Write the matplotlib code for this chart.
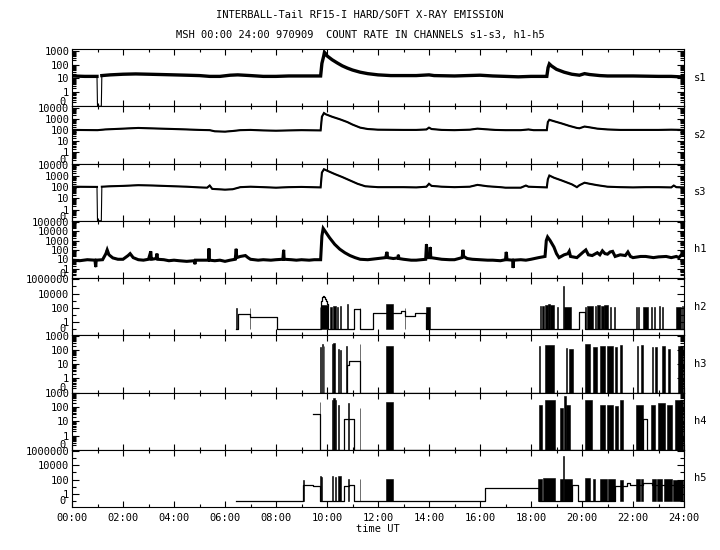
import numpy as np
import matplotlib
matplotlib.use('Agg')
import matplotlib.pyplot as plt
from matplotlib.ticker import FixedLocator, NullFormatter

plt.rcParams['font.family'] = ['DejaVu Sans Mono', 'DejaVu Sans']
plt.rcParams['font.size'] = 7.5

# ---- soft channels and h1: knot times (hours UT) / count rates (0 = no counts)
s1_t = [0.0, 0.5, 0.98, 1.0, 1.15, 1.17, 1.5, 2.0, 2.5, 3.0, 3.5, 4.0, 4.5, 5.0, 5.4, 5.8,
        6.2, 6.5, 7.0, 7.5, 8.0, 8.5, 9.0, 9.5, 9.75, 9.8, 9.87, 9.9, 9.95, 10.0, 10.2,
        10.4, 10.6, 10.8, 11.0, 11.3, 11.6, 12.0, 12.5, 13.0, 13.5, 14.0, 14.2, 15.0,
        15.5, 16.0, 16.5, 17.0, 17.5, 18.0, 18.5, 18.62, 18.67, 18.72, 18.8, 19.0, 19.3,
        19.6, 19.9, 20.1, 20.3, 20.7, 21.0, 22.0, 23.0, 23.5, 23.85, 24.0]
s1_v = [15, 14, 14, 0, 0, 16, 18, 20, 21, 20, 19, 18, 17, 16, 14, 14,
        17, 18, 16, 14, 14, 15, 15, 15, 15, 120, 400, 750, 600, 420, 220,
        130, 80, 55, 40, 28, 22, 18, 16, 16, 16, 18, 16, 15,
        16, 17, 15, 14, 13, 14, 14, 14, 60, 110, 80, 45, 28,
        20, 17, 22, 19, 16, 15, 15, 14, 14, 13, 14]

s2_t = [0.0, 1.0, 1.3, 2.0, 2.6, 3.0, 3.5, 4.0, 4.5, 5.0, 5.4, 5.6, 6.0, 6.3, 6.6, 7.0,
        7.5, 8.0, 8.5, 9.0, 9.75, 9.8, 9.88, 9.95, 10.2, 10.5, 10.8, 11.0, 11.3, 11.6,
        12.0, 13.0, 13.5, 13.9, 14.0, 14.1, 14.5, 15.0, 15.6, 15.9, 16.2, 16.6, 17.0,
        17.6, 17.9, 18.1, 18.62, 18.66, 18.72, 18.9, 19.2, 19.5, 19.8, 19.9, 20.1,
        20.3, 20.6, 21.0, 21.5, 22.0, 23.0, 23.5, 24.0]
s2_v = [100, 95, 110, 130, 150, 140, 130, 120, 110, 100, 95, 75, 70, 80, 95, 100,
        90, 85, 90, 95, 90, 1500, 3200, 2500, 1500, 900, 500, 300, 160, 120,
        105, 100, 100, 110, 160, 120, 100, 95, 105, 130, 115, 100, 95,
        95, 110, 95, 95, 500, 800, 600, 380, 230, 150, 140, 200,
        170, 130, 110, 100, 100, 100, 105, 100]

s3_t = [0.0, 0.98, 1.0, 1.15, 1.17, 1.5, 2.0, 2.6, 3.2, 4.0, 4.5, 5.0, 5.3, 5.4, 5.5,
        6.0, 6.3, 6.6, 7.0, 7.5, 8.0, 8.5, 9.0, 9.75, 9.8, 9.88, 10.0, 10.3, 10.6, 10.9,
        11.2, 11.5, 12.0, 13.0, 13.5, 13.9, 14.0, 14.1, 14.5, 15.0, 15.6, 15.9, 16.3,
        16.8, 17.0, 17.6, 17.8, 17.9, 18.62, 18.66, 18.72, 18.9, 19.2, 19.6, 19.8, 19.9,
        20.1, 20.3, 20.6, 21.0, 21.5, 22.0, 22.5, 23.0, 23.5, 23.6, 23.7, 24.0]
s3_v = [110, 105, 0, 0, 110, 120, 130, 150, 140, 120, 110, 95, 90, 140, 70,
        60, 65, 100, 110, 100, 90, 100, 105, 95, 2000, 4000, 3000, 1500, 800, 400,
        200, 120, 100, 100, 95, 110, 200, 130, 110, 100, 110, 160, 120,
        100, 90, 90, 140, 110, 95, 500, 1100, 700, 400, 180, 100, 150,
        250, 200, 150, 110, 100, 95, 100, 100, 95, 140, 100, 95]

h1_t = [0.0, 0.3, 0.6, 0.9, 0.93, 0.95, 1.2, 1.33, 1.38, 1.45, 1.6, 1.8, 2.0, 2.2, 2.28,
        2.4, 2.6, 2.8, 3.0, 3.09, 3.11, 3.13, 3.3, 3.33, 3.36, 3.6, 3.8, 4.0, 4.2, 4.5,
        4.8, 4.82, 4.84, 5.0, 5.35, 5.37, 5.39, 5.6, 5.8, 6.0, 6.2, 6.4, 6.44, 6.46,
        6.6, 6.8, 6.9, 7.0, 7.3, 7.5, 7.8, 8.0, 8.27, 8.3, 8.32, 8.6, 8.8, 9.0, 9.3,
        9.5, 9.75, 9.8, 9.85, 9.95, 10.1, 10.3, 10.5, 10.7, 10.9, 11.1, 11.3, 11.6,
        12.0, 12.3, 12.35, 12.38, 12.6, 12.78, 12.8, 12.82, 13.0, 13.3, 13.5, 13.87,
        13.9, 13.93, 14.03, 14.05, 14.07, 14.3, 14.5, 14.8, 15.0, 15.3, 15.33, 15.36,
        15.5, 15.7, 16.0, 16.3, 16.5, 16.8, 17.0, 17.03, 17.06, 17.28, 17.3, 17.32,
        17.6, 17.8, 18.0, 18.3, 18.55, 18.6, 18.65, 18.75, 18.9, 19.0, 19.1, 19.3,
        19.45, 19.5, 19.55, 19.8, 20.05, 20.15, 20.25, 20.4, 20.6, 20.7, 20.8, 20.9,
        21.0, 21.1, 21.2, 21.3, 21.5, 21.7, 21.8, 21.9, 22.0, 22.3, 22.5, 22.8, 23.0,
        23.3, 23.5, 23.7, 23.8, 23.9, 24.0]
h1_v = [8, 7, 9, 8, 1.5, 8, 9, 40, 100, 30, 14, 10, 10, 25, 40,
        15, 9, 8, 10, 70, 10, 10, 12, 40, 10, 9, 7, 8, 7, 6,
        7, 3, 8, 8, 8, 140, 8, 7, 8, 6, 8, 10, 130, 15,
        20, 25, 15, 10, 8, 9, 8, 9, 10, 100, 10, 9, 8, 9, 8,
        9, 9, 3000, 20000, 8000, 2000, 400, 120, 50, 25, 15, 10, 9,
        12, 15, 60, 15, 12, 14, 30, 12, 10, 8, 8, 10,
        400, 15, 15, 200, 15, 12, 10, 9, 9, 15, 100, 20,
        12, 10, 9, 8, 8, 7, 9, 60, 9, 8, 1.2, 8,
        9, 8, 10, 15, 20, 1000, 2400, 1000, 200, 40, 15, 30,
        40, 70, 20, 15, 60, 100, 30, 25, 50, 30, 80, 40,
        35, 60, 70, 20, 30, 25, 60, 20, 15, 20, 20, 15, 18,
        20, 15, 20, 15, 30, 25]

# ---- hard channels h2-h5: step level (hours / counts) + burst blocks (start, end, peak)
h2_t = [6.45, 6.5, 6.98, 8.03, 9.73, 9.78, 9.82, 9.85, 9.88, 9.92, 9.96, 10.0, 10.05,
        11.07, 11.29, 11.81, 12.6, 12.9, 13.06, 13.45, 13.9, 19.9, 20.1, 24.0]
h2_v = [0, 15, 5, 0, 0, 1000, 3000, 5000, 3000, 1500, 800, 400, 0,
        70, 0, 19, 19, 32, 6.5, 21, 0, 25, 0, 0]
h2_b0 = [6.44, 6.97, 9.73, 9.75, 10.1, 10.25, 10.4, 10.5, 10.8, 11.28, 12.33, 13.05,
         13.9, 18.35, 18.45, 18.55, 18.65, 18.75, 19.0, 19.26, 19.3, 20.1, 20.2, 20.5,
         20.6, 20.75, 20.88, 21.1, 21.25, 22.1, 22.2, 22.4, 22.7, 22.82, 23.0, 23.12,
         23.7, 23.93]
h2_b1 = [6.47, 6.99, 9.74, 10.05, 10.2, 10.35, 10.45, 10.55, 10.82, 11.3, 12.6, 13.07,
         14.05, 18.38, 18.5, 18.65, 18.75, 18.9, 19.05, 19.28, 19.55, 20.15, 20.45, 20.55,
         20.72, 20.85, 21.0, 21.15, 21.3, 22.15, 22.25, 22.6, 22.75, 22.86, 23.05, 23.18,
         23.9, 23.97]
h2_bp = [100, 100, 150, 250, 150, 200, 150, 200, 300, 90, 300, 100,
         150, 200, 200, 250, 400, 250, 150, 100000, 150, 150, 200, 200,
         250, 200, 250, 150, 150, 150, 150, 150, 150, 150, 200, 150,
         150, 200]

h3_t = [9.73, 10.77, 10.86, 11.29, 24.0]
h3_v = [0, 8, 16, 0, 0]
h3_b0 = [9.73, 9.8, 9.87, 10.2, 10.25, 10.45, 10.52, 10.75, 11.28, 12.33, 18.33, 18.55,
         19.36, 19.5, 20.12, 20.44, 20.71, 20.97, 21.29, 21.49, 22.14, 22.33, 22.73,
         22.86, 23.12, 23.38, 23.78]
h3_b1 = [9.75, 9.85, 9.9, 10.23, 10.32, 10.48, 10.55, 10.77, 11.3, 12.6, 18.36, 18.92,
         19.43, 19.66, 20.3, 20.57, 20.9, 21.22, 21.36, 21.55, 22.2, 22.4, 22.8,
         22.93, 23.25, 23.45, 23.97]
h3_bp = [150, 250, 200, 260, 280, 120, 100, 180, 260, 200, 180, 220,
         130, 120, 250, 150, 180, 180, 160, 220, 200, 220, 150,
         160, 180, 120, 200]

h4_t = [9.47, 9.73, 10.65, 11.07, 22.38, 22.56, 24.0]
h4_v = [32, 0, 14, 0, 14, 0, 0]
h4_b0 = [9.72, 10.2, 10.25, 10.33, 10.44, 10.82, 11.28, 12.33, 18.33, 18.55, 19.14,
         19.3, 19.38, 20.12, 20.7, 20.97, 21.29, 21.5, 22.1, 22.7, 22.99, 23.32, 23.65]
h4_b1 = [9.74, 10.23, 10.3, 10.36, 10.47, 10.85, 11.3, 12.6, 18.42, 18.94, 19.27,
         19.37, 19.53, 20.38, 20.9, 21.22, 21.42, 21.6, 22.38, 22.86, 23.25, 23.52, 23.97]
h4_bp = [210, 300, 400, 300, 150, 200, 90, 210, 150, 300, 90,
         600, 150, 300, 150, 150, 120, 300, 150, 150, 200, 150, 300]

h5_t = [6.45, 9.07, 9.47, 9.73, 10.65, 10.85, 11.07, 16.2, 18.3, 19.6, 19.86, 21.29,
        21.75, 21.9, 22.4, 22.73, 24.0]
h5_v = [0, 20, 15, 0, 15, 20, 0, 7, 0, 20, 0, 15,
        35, 20, 30, 20, 20]
h5_b0 = [9.06, 9.73, 9.78, 10.2, 10.3, 10.45, 10.82, 11.28, 12.33, 18.29, 18.48, 19.14,
         19.26, 19.3, 20.12, 20.44, 20.71, 21.03, 21.5, 22.1, 22.33, 22.73, 22.95,
         23.2, 23.58]
h5_b1 = [9.09, 9.75, 9.8, 10.25, 10.36, 10.55, 10.85, 11.3, 12.6, 18.42, 18.94, 19.26,
         19.28, 19.6, 20.3, 20.5, 20.97, 21.29, 21.6, 22.27, 22.4, 22.9, 23.15,
         23.52, 23.97]
h5_bp = [100, 300, 200, 300, 250, 300, 130, 130, 130, 130, 180, 130,
         200000, 130, 180, 130, 130, 130, 100, 130, 130, 130, 130,
         130, 100]

names = ['s1', 's2', 's3', 'h1', 'h2', 'h3', 'h4', 'h5']
hour_labels = ['%02d:00' % h for h in range(0, 25, 2)]

# panel y ranges and where the "0" label sits
ylims = {'s1': (0.1, 1300), 's2': (0.1, 13000), 's3': (0.1, 13000), 'h1': (0.1, 1.3e5),
         'h2': (0.015, 1.5e6), 'h3': (0.1, 1050), 'h4': (0.1, 1050), 'h5': (0.015, 1.5e6)}
zero_lab = {'s1': 0.2, 's2': 0.22, 's3': 0.22, 'h1': 0.25, 'h2': 0.1,
            'h3': 0.2, 'h4': 0.2, 'h5': 0.1}

fig = plt.figure(figsize=(7.2, 5.5), dpi=100)
left, width = 72 / 720, 612 / 720
top = 1 - 49 / 550
ph = (507 - 49) / 8 / 550

smooth = {'s1': (s1_t, s1_v, 2.4), 's2': (s2_t, s2_v, 1.5),
          's3': (s3_t, s3_v, 1.5), 'h1': (h1_t, h1_v, 2.2)}
hard = {'h2': (h2_t, h2_v, h2_b0, h2_b1, h2_bp), 'h3': (h3_t, h3_v, h3_b0, h3_b1, h3_bp),
        'h4': (h4_t, h4_v, h4_b0, h4_b1, h4_bp), 'h5': (h5_t, h5_v, h5_b0, h5_b1, h5_bp)}

for i, name in enumerate(names):
    ax = fig.add_axes([left, top - (i + 1) * ph, width, ph])
    ax.set_yscale('log')
    lo, hi = ylims[name]
    z = 0.1
    if name in smooth:
        t, v, lw = smooth[name]
        v = np.array(v, dtype=float)
        ax.plot(t, np.where(v > 0, v, z), color='k', lw=0.8)
        ax.plot(t, np.where(v > 0, v, np.nan), color='k', lw=lw, solid_joinstyle='miter')
    else:
        t, v, b0, b1, bp = hard[name]
        v = np.array(v, dtype=float)
        ax.plot(t, np.where(v > 0, v, z), color='k', lw=0.9, drawstyle='steps-post')
        b0 = np.array(b0)
        ax.bar(b0, np.array(bp) - z, width=np.array(b1) - b0, bottom=z, align='edge',
               color='k', edgecolor='k', lw=0.4)
    ax.set_xlim(0, 24)
    ax.set_ylim(lo, hi)

    # y ticks
    if name in ('h2', 'h5'):
        major = [1, 100, 1e4, 1e6]
        labels = ['1', '100', '10000', '1000000']
        minor = [0.1, 10, 1000, 1e5]
    else:
        ndec = int(round(np.log10(hi)))
        major = [10.0 ** k for k in range(0, ndec + 1)]
        labels = ['%d' % m for m in major]
        minor = [m * 10.0 ** k for k in range(-1, ndec) for m in range(2, 10)]
    ax.yaxis.set_major_locator(FixedLocator(major))
    ax.set_yticklabels(labels)
    ax.yaxis.set_minor_locator(FixedLocator(minor))
    ax.yaxis.set_minor_formatter(NullFormatter())
    ax.text(-0.011, zero_lab[name], '0', transform=ax.get_yaxis_transform(),
            ha='right', va='center')

    # x ticks
    ax.set_xticks(range(0, 25, 2))
    ax.set_xticks(range(0, 25), minor=True)
    if i == len(names) - 1:
        ax.set_xticklabels(hour_labels)
        ax.set_xlabel('time UT', labelpad=1)
    else:
        ax.set_xticklabels([])

    ax.tick_params(which='both', direction='in', top=True, right=True, width=0.8, pad=2)
    ax.tick_params(axis='y', which='major', length=5)
    ax.tick_params(axis='y', which='minor', length=3)
    ax.tick_params(axis='x', which='major', length=4, pad=4)
    ax.tick_params(axis='x', which='minor', length=2.5)
    for sp in ax.spines.values():
        sp.set_linewidth(0.8)

    fig.text(694 / 720, top - (i + 0.5) * ph, name, ha='left', va='center')

fig.text(0.5, 1 - 15 / 550, 'INTERBALL-Tail RF15-I HARD/SOFT X-RAY EMISSION',
         ha='center', va='center')
fig.text(0.5, 1 - 35 / 550, 'MSH 00:00 24:00 970909  COUNT RATE IN CHANNELS s1-s3, h1-h5',
         ha='center', va='center')

fig.savefig('out.png', dpi=100)
